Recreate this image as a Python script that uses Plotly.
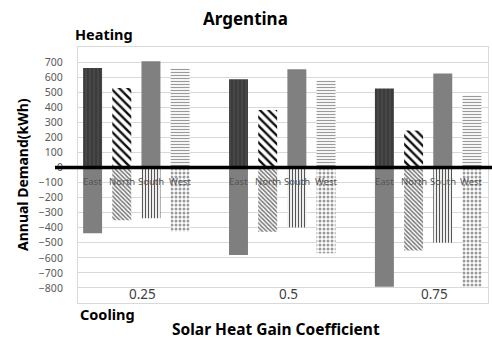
import plotly.graph_objects as go

# Annual heating (+) and cooling (-) demand by window orientation, per SHGC
shgc = ["0.25", "0.5", "0.75"]
orientations = ["East", "North", "South", "West"]
heating = {
    "East": [660, 586, 525],
    "North": [527, 382, 245],
    "South": [705, 652, 624],
    "West": [657, 580, 480],
}
cooling = {
    "East": [-436, -581, -792],
    "North": [-350, -427, -552],
    "South": [-337, -398, -500],
    "West": [-425, -570, -792],
}
y_ticks = list(range(-800, 800, 100))

# Fill styles: (bgcolor, fgcolor, pattern shape, size, solidity)
heat_style = {
    "East": ("#474747", "#333333", "|", 4, 0.3),
    "North": ("#ffffff", "#111111", "\\", 6, 0.4),
    "South": ("#808080", "#808080", "", 8, 0.3),
    "West": ("#ffffff", "#9a9a9a", "-", 3, 0.4),
}
cool_style = {
    "East": ("#7f7f7f", "#7f7f7f", "", 8, 0.3),
    "North": ("#ffffff", "#777777", "\\", 3, 0.5),
    "South": ("#ffffff", "#555555", "|", 3, 0.4),
    "West": ("#ffffff", "#9a9a9a", ".", 4, 0.45),
}

BARGAP = 0.2
GROUPGAP = 0.35

fig = go.Figure()
for name in orientations:
    for vals, style in ((heating[name], heat_style[name]), (cooling[name], cool_style[name])):
        bg, fg, shape, size, sol = style
        fig.add_trace(go.Bar(
            x=list(range(len(shgc))), y=vals, name=name, offsetgroup=name,
            marker=dict(color=bg, line=dict(width=0),
                        pattern=dict(shape=shape, fgcolor=fg, bgcolor=bg,
                                     size=size, solidity=sol, fillmode="replace")),
            showlegend=False,
        ))

annotations = []
# Orientation labels just under the zero line, centred on each bar
slot = (1 - BARGAP) / len(orientations)
for i in range(len(shgc)):
    for k, name in enumerate(orientations):
        annotations.append(dict(
            x=i + (k - (len(orientations) - 1) / 2) * slot, y=-95, xref="x", yref="y",
            text=name, showarrow=False, font=dict(size=9.5, color="#555555"),
            xanchor="center", yanchor="middle",
        ))
    annotations.append(dict(
        x=i + 0.04, y=-840, xref="x", yref="y", text=shgc[i], showarrow=False,
        font=dict(size=13.5, color="#404040"), xanchor="center", yanchor="middle",
    ))

bold = dict(family="Noto Sans, Open Sans, sans-serif", color="#000000")
annotations += [
    dict(x=245, y=18, text="<b>Argentina</b>", showarrow=False, font=dict(size=17, **bold)),
    dict(x=104, y=34, text="<b>Heating</b>", showarrow=False, font=dict(size=14.5, **bold)),
    dict(x=107, y=314, text="<b>Cooling</b>", showarrow=False, font=dict(size=14.5, **bold)),
    dict(x=276, y=329, text="<b>Solar Heat Gain Coefficient</b>", showarrow=False,
         font=dict(size=15.5, **bold)),
    dict(x=22, y=174, text="<b>Annual Demand(kWh)</b>", showarrow=False, textangle=-90,
         font=dict(size=14, **bold)),
]
# Pixel-positioned texts: convert to paper coordinates
W, H = 492, 339
ML, MR, MT, MB = 78, 4, 47, 36
pw, ph = W - ML - MR, H - MT - MB
for a in annotations:
    if a.get("xref") != "x":
        a["x"] = (a["x"] - ML) / pw
        a["y"] = 1 - (a["y"] - MT) / ph
        a["xref"] = "paper"
        a["yref"] = "paper"
        a["xanchor"] = "center"
        a["yanchor"] = "middle"

fig.update_layout(
    width=W, height=H,
    margin=dict(l=ML, r=MR, t=MT, b=MB),
    paper_bgcolor="white", plot_bgcolor="white",
    barmode="group", bargap=BARGAP, bargroupgap=GROUPGAP,
    font=dict(family="Noto Sans, Open Sans, sans-serif", size=10, color="#595959"),
    xaxis=dict(range=[-0.4, 2.41], showticklabels=False, showgrid=False, zeroline=False,
               showline=True, linecolor="#d9d9d9", mirror=True, ticks=""),
    yaxis=dict(range=[-900, 800], tickvals=y_ticks, showgrid=True, gridcolor="#d9d9d9",
               zeroline=False, showline=True, linecolor="#d9d9d9", mirror=True,
               ticks="", ticklabelstandoff=12, tickfont=dict(size=10.5, color="#595959")),
    annotations=annotations,
    shapes=[dict(type="line", xref="paper", yref="y", x0=-23 / pw, x1=1.02, y0=0, y1=0,
                 line=dict(color="black", width=3.5), layer="above")],
)

fig.write_html("out.html")
